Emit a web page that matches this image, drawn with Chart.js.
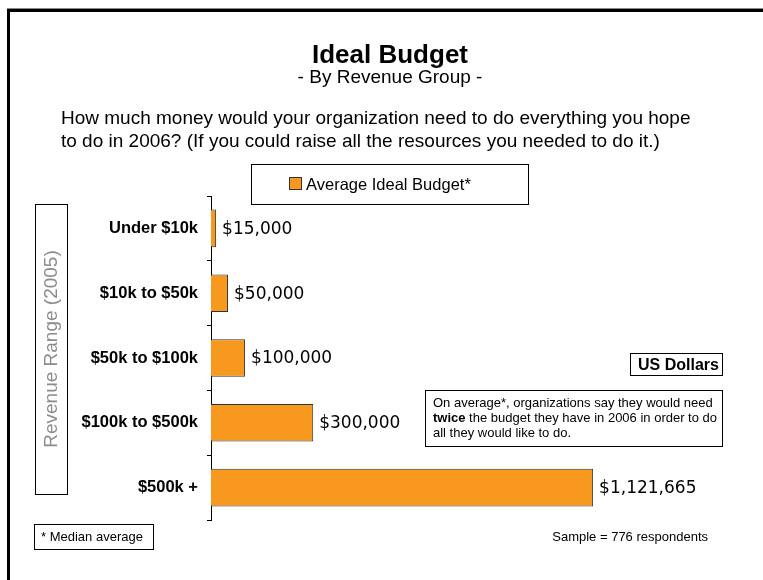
<!DOCTYPE html>
<html>
<head>
<meta charset="utf-8">
<script src="https://cdn.jsdelivr.net/npm/chart.js@4"></script>
<style>
  body { margin: 0; background: #fff; }
  #wrap { position: relative; width: 763px; height: 580px; }
</style>
</head>
<body>
<div id="wrap"><canvas id="budgetChart"></canvas></div>
<script>
const revenueGroups = ['Under $10k', '$10k to $50k', '$50k to $100k', '$100k to $500k', '$500k +'];
const idealBudget = [15000, 50000, 100000, 300000, 1121665];
const seriesName = 'Average Ideal Budget*';
const questionLines = [
    'How much money would your organization need to do everything you hope',
    'to do in 2006? (If you could raise all the resources you needed to do it.)'
];
const noteLines = [
    'On average*, organizations say they would need',
    'twice the budget they have in 2006 in order to do',
    'all they would like to do.'
];

const orange = '#f7991f';
const sans = '"Liberation Sans", Arial, Helvetica, sans-serif';

function fmtDollars(v) {
    return '$' + v.toLocaleString('en-US');
}

function box(ctx, x, y, w, h) {
    ctx.save();
    ctx.strokeStyle = '#000';
    ctx.lineWidth = 1;
    ctx.strokeRect(x + 0.5, y + 0.5, w, h);
    ctx.restore();
}

const decor = {
    id: 'decor',
    beforeDraw(chart) {
        const ctx = chart.ctx;
        ctx.save();
        ctx.fillStyle = '#fff';
        ctx.fillRect(0, 0, chart.width, chart.height);

        // outer frame
        ctx.fillStyle = '#888';
        ctx.fillRect(7, 8, 756, 1);
        ctx.fillStyle = '#000';
        ctx.fillRect(7, 9, 3, 571);
        ctx.fillRect(7, 9, 756, 3);

        ctx.fillStyle = '#000';
        ctx.textAlign = 'center';
        ctx.textBaseline = 'alphabetic';
        ctx.font = 'bold 26px ' + sans;
        ctx.fillText('Ideal Budget', 390, 63);
        ctx.font = '19px ' + sans;
        ctx.fillText('- By Revenue Group -', 390, 83);

        ctx.textAlign = 'left';
        ctx.font = '19px ' + sans;
        ctx.fillText(questionLines[0], 61, 124);
        ctx.fillText(questionLines[1], 61, 147);

        // legend
        box(ctx, 251, 164, 277, 40);
        ctx.fillStyle = orange;
        ctx.fillRect(289, 177, 13, 13);
        ctx.strokeStyle = '#333';
        ctx.strokeRect(289.5, 177.5, 12, 12);
        ctx.fillStyle = '#000';
        ctx.font = '16.5px ' + sans;
        ctx.fillText(seriesName, 306, 190);

        // rotated axis title
        box(ctx, 35, 204, 32, 290);
        ctx.save();
        ctx.translate(57, 349);
        ctx.rotate(-Math.PI / 2);
        ctx.textAlign = 'center';
        ctx.fillStyle = '#8c8c8c';
        ctx.font = '19px ' + sans;
        ctx.fillText('Revenue Range (2005)', 0, 0);
        ctx.restore();

        // US Dollars
        box(ctx, 630, 353, 92, 22);
        ctx.textAlign = 'left';
        ctx.font = 'bold 16px ' + sans;
        ctx.fillText('US Dollars', 638, 370);

        // note
        box(ctx, 425, 390, 297, 56);
        ctx.font = '13px ' + sans;
        ctx.fillText(noteLines[0], 433, 407);
        ctx.font = 'bold 13px ' + sans;
        ctx.fillText('twice', 433, 422);
        const tw = ctx.measureText('twice').width;
        ctx.font = '13px ' + sans;
        ctx.fillText(noteLines[1].slice(5), 433 + tw, 422);
        ctx.fillText(noteLines[2], 433, 437);

        // footnote + sample
        box(ctx, 34, 524, 119, 25);
        ctx.fillText('* Median average', 41, 541);
        ctx.textAlign = 'right';
        ctx.fillText('Sample = 776 respondents', 708, 541);
        ctx.restore();
    },
    afterDatasetsDraw(chart) {
        const ctx = chart.ctx;
        const meta = chart.getDatasetMeta(0);
        ctx.save();
        ctx.fillStyle = '#000';
        ctx.font = '17px "DejaVu Sans", Verdana, sans-serif';
        ctx.textAlign = 'left';
        ctx.textBaseline = 'middle';
        meta.data.forEach((bar, i) => {
            ctx.fillText(fmtDollars(idealBudget[i]), bar.x + 6, bar.y + 1);
        });
        ctx.restore();
    }
};

const data = {
    labels: revenueGroups,
    datasets: [{
        label: seriesName,
        data: idealBudget,
        backgroundColor: orange,
        borderColor: '#333',
        borderWidth: 1,
        barPercentage: 0.58,
        categoryPercentage: 1
    }]
};

const config = {
    type: 'bar',
    data,
    options: {
        indexAxis: 'y',
        responsive: true,
        maintainAspectRatio: false,
        animation: false,
        layout: { padding: { left: 0, top: 196, right: 41, bottom: 60 } },
        plugins: {
            legend: { display: false },
            tooltip: { enabled: false }
        },
        scales: {
            x: {
                display: false,
                min: 0,
                max: 1500000
            },
            y: {
                afterFit(scale) { scale.width = 211; },
                border: { display: true, color: '#000', width: 1 },
                grid: {
                    drawOnChartArea: false,
                    drawTicks: true,
                    tickLength: 4,
                    color: '#000',
                    offset: true
                },
                ticks: {
                    color: '#000',
                    padding: 9,
                    font: { family: sans, size: 16.5, weight: 'bold' }
                }
            }
        }
    },
    plugins: [decor]
};

const budgetChart = new Chart(document.getElementById('budgetChart'), config);
</script>
</body>
</html>
